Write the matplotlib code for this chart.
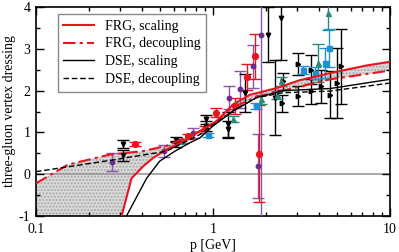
import matplotlib
matplotlib.use("Agg")
import matplotlib.pyplot as plt

plt.rcParams['font.family'] = ['Liberation Serif', 'DejaVu Serif']
plt.rcParams['mathtext.fontset'] = 'stix'

# ---- model curves ----
frg_sc_p = [0.305, 0.347, 0.404, 0.46, 0.547, 0.68, 0.845, 1.05, 1.30, 1.62, 2.29, 3.1, 4.6, 7.35, 10.0]
frg_sc_v = [-1.0, -0.10, 0.19, 0.39, 0.59, 0.79, 1.03, 1.27, 1.67, 1.90, 2.06, 2.25, 2.42, 2.60, 2.69]

frg_dc_p = [0.1, 0.152, 0.262, 0.40, 0.55, 0.845, 1.05, 1.30, 1.76, 2.5, 4.6, 10.0]
frg_dc_v = [-0.22, 0.23, 0.47, 0.55, 0.68, 1.03, 1.27, 1.60, 1.85, 2.00, 2.27, 2.48]

dse_sc_p = [0.325, 0.422, 0.50, 0.61, 0.74, 0.845, 1.0, 1.30, 1.76, 2.5, 4.6, 10.0]
dse_sc_v = [-1.0, -0.10, 0.31, 0.55, 0.75, 0.87, 1.15, 1.51, 1.83, 2.00, 2.05, 2.27]

dse_dc_p = [0.1, 0.262, 0.547, 0.845, 1.30, 1.76, 2.5, 4.6, 10.0]
dse_dc_v = [0.06, 0.33, 0.55, 0.95, 1.52, 1.83, 1.95, 1.99, 2.18]

# ---- lattice data ----
blk_v_p = [0.311, 0.311, 0.62, 0.62, 0.92, 0.92, 1.22, 1.22, 1.52, 2.05, 2.42, 2.25]
blk_v_v = [0.72, 0.45, 0.83, 0.72, 1.31, 1.15, 1.19, 1.07, 1.95, 3.34, 3.74, 1.83]
blk_v_e = [0.10, 0.13, 0.07, 0.08, 0.10, 0.12, 0.30, 0.20, 0.45, 0.65, 1.00, 0.90]

blk_r_p = [2.45, 2.49, 3.03, 3.03, 3.6, 3.6, 4.11, 4.58, 5.33, 5.0]
blk_r_v = [1.70, 2.22, 2.64, 1.87, 2.50, 1.99, 2.10, 1.90, 2.58, 2.18]
blk_r_e = [0.20, 0.20, 0.27, 0.25, 0.35, 0.30, 0.40, 0.56, 0.90, 0.83]

teal_p = [0.665, 1.30, 1.88, 2.30, 2.43, 3.94, 4.48]
teal_v = [0.79, 1.32, 1.79, 1.90, 2.22, 2.66, 3.86]
teal_e = [0.05, 0.08, 0.10, 0.10, 0.10, 0.46, 0.40]

blue_p = [0.94, 1.76, 3.24, 3.8, 4.3, 4.55]
blue_v = [0.93, 1.63, 2.50, 2.42, 2.66, 3.02]
blue_e = [0.05, 0.08, 0.10, 0.15, 0.35, 0.45]

purp_p = [0.268, 0.528, 0.774, 1.235, 1.42, 1.69, 1.86, 1.80]
purp_v = [0.29, 0.55, 0.99, 1.83, 2.03, 2.58, 3.34, 0.19]
purp_e = [0.22, 0.15, 0.12, 0.27, 0.45, 0.52, 5.00, 0.76]

red_p = [0.362, 0.724, 0.90, 1.04, 1.33, 1.56, 1.74, 1.82]
red_v = [0.72, 0.91, 1.07, 1.47, 1.63, 2.32, 2.82, 0.49]
red_e = [0.05, 0.06, 0.08, 0.11, 0.19, 0.31, 0.53, 1.16]

RED = '#e8141e'
PURPLE = '#6b2d8c'
TEAL = '#2b8b7b'
BLUE = '#1f8fd6'

fig = plt.figure(figsize=(3.99, 2.52), dpi=100)
ax = fig.add_axes([0.090, 0.143, 0.887, 0.829])

# shaded band between FRG curves
poly_x = frg_dc_p + frg_sc_p[::-1] + [0.1]
poly_y = frg_dc_v + frg_sc_v[::-1] + [-1.0]
ax.fill(poly_x, poly_y, facecolor='#dadada', edgecolor='#a8a8a8', hatch='.....', lw=0, zorder=1)

ax.axhline(0, color='#999999', lw=1.2, zorder=1.5)

ekw = dict(ls='none', capsize=4, elinewidth=1.0, capthick=1.0, zorder=3)
ax.errorbar(purp_p, purp_v, yerr=purp_e, marker='o', ms=3.2, color=PURPLE, ecolor='#8a55aa', **ekw)
ax.errorbar(red_p, red_v, yerr=red_e, marker='o', ms=4.2, color=RED, **ekw)
ax.errorbar(blk_v_p, blk_v_v, yerr=blk_v_e, marker='v', ms=3.2, color='black', **ekw)
ax.errorbar(blk_r_p, blk_r_v, yerr=blk_r_e, marker='>', ms=3.2, color='black', **ekw)
ax.errorbar(teal_p, teal_v, yerr=teal_e, marker='^', ms=3.6, color=TEAL, **ekw)
ax.errorbar(blue_p, blue_v, yerr=blue_e, marker='s', ms=3.6, color=BLUE, **ekw)

ax.plot(frg_sc_p, frg_sc_v, color=RED, lw=1.5, zorder=4, label='FRG, scaling')
ax.plot(frg_dc_p, frg_dc_v, color=RED, lw=1.5, ls=(0, (6, 2, 1.5, 2)), zorder=4, label='FRG, decoupling')
ax.plot(dse_sc_p, dse_sc_v, color='black', lw=1.0, zorder=4, label='DSE, scaling')
ax.plot(dse_dc_p, dse_dc_v, color='black', lw=1.0, ls=(0, (4, 2)), zorder=4, label='DSE, decoupling')

ax.set_xscale('log')
ax.set_xlim(0.1, 10)
ax.set_ylim(-1, 4)
ax.set_xticks([0.1, 1, 10])
ax.set_xticklabels(['0.1', '1', '10'])
ax.set_yticks([-1, 0, 1, 2, 3, 4])
ax.set_yticklabels(['-1', '0', '1', '2', '3', '4'])
ax.set_yticks([-0.5, 0.5, 1.5, 2.5, 3.5], minor=True)
ax.tick_params(which='both', direction='in', top=True, right=True, labelsize=10)
ax.tick_params(axis='x', which='major', pad=5)
ax.tick_params(axis='y', which='major', pad=4)
ax.tick_params(which='major', length=6, width=1)
ax.tick_params(which='minor', length=3, width=1)
for s in ax.spines.values():
    s.set_linewidth(1.2)

ax.set_xlabel('p [GeV]', fontsize=10, labelpad=2)
ax.set_ylabel('three-gluon vertex dressing', fontsize=10, labelpad=2)

leg = ax.legend(loc='upper left', bbox_to_anchor=(0.042, 1.0), fontsize=10, handlelength=2.2,
                handletextpad=0.8, labelspacing=0.35, borderpad=0.4, fancybox=False,
                framealpha=1, edgecolor='#888888')
leg.get_frame().set_linewidth(1.0)
leg.set_zorder(6)

fig.savefig('out.png', dpi=100)
